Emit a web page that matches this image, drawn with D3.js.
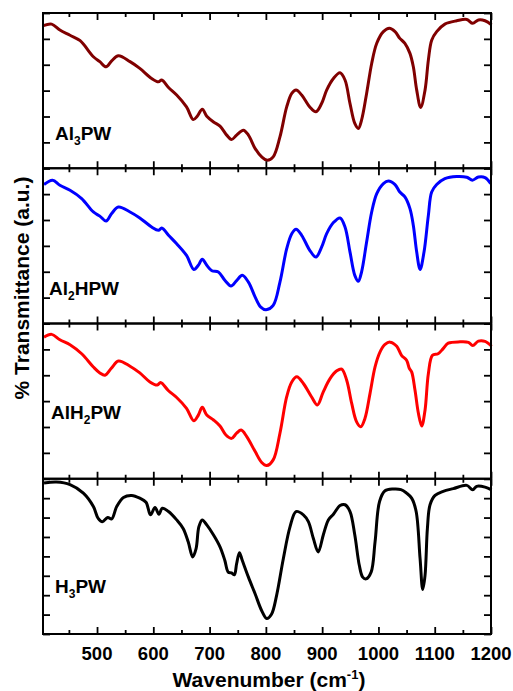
<!DOCTYPE html>
<html>
  <head>
    <meta charset="utf-8" />
    <title>FTIR spectra</title>
    <script src="https://d3js.org/d3.v7.min.js"></script>
    <style>
        body {
            margin:0;
            background:white;
        }
        text {
            font-family: "Liberation Sans", Arial, sans-serif;
            font-weight: bold;
        }
    </style>
  </head>
  <body>
    <svg id="viz"></svg>

    <script>

        // spectra: [wavenumber, transmittance (a.u.)]
        var al3pw = [[404.6,5.51],[419.4,5.57],[434,5.34],[452,5.14],[470,4.93],[493.5,4.31],[505,4.12],[516,3.92],[526,4.15],[538,4.35],[558.6,4.12],[576,3.86],[597,3.47],[609,3.34],[615,3.41],[627,3.12],[641.5,2.83],[659,2.37],[671,1.88],[678,2.01],[687,2.28],[695,2.01],[707,1.79],[718.5,1.63],[730.4,1.28],[739,1.11],[748,1.28],[760,1.47],[769,1.28],[781,0.76],[792.6,0.44],[802.6,0.31],[813,0.44],[825,1.21],[837,2.37],[846,2.89],[853.6,3.02],[863.6,2.83],[878,2.37],[889,2.18],[899,2.50],[908,3.02],[920,3.47],[931.8,3.69],[940.6,3.41],[949.5,2.50],[958,1.73],[964.3,1.54],[970,1.86],[979,2.89],[988,4.05],[997,4.83],[1008.8,5.28],[1019.4,5.41],[1029.5,5.28],[1038,5.02],[1047,4.83],[1056,4.44],[1062,3.92],[1068,3.02],[1075,2.35],[1082.8,3.02],[1088.7,4.18],[1094.6,4.95],[1103.5,5.28],[1118,5.57],[1139,5.70],[1157,5.75],[1167.5,5.60],[1177.6,5.73],[1189.4,5.70],[1201,5.54]];

        var al2hpw = [[405.8,5.37],[421,5.54],[434,5.34],[452,5.15],[472.7,4.83],[493.5,4.31],[505,4.15],[516,3.96],[526,4.25],[538,4.50],[558.6,4.31],[576,4.08],[597,3.73],[609,3.60],[615,3.69],[627,3.41],[641.5,3.08],[659,2.63],[672,2.09],[680,2.25],[687,2.48],[695,2.25],[704,2.04],[715.6,1.99],[727.4,1.66],[738,1.45],[748,1.66],[758,1.86],[769,1.60],[781,1.02],[791,0.63],[800.3,0.53],[813,0.70],[825,1.60],[837,2.89],[846,3.47],[853.6,3.64],[863.6,3.41],[878,2.83],[889,2.57],[899,2.95],[908,3.47],[920,3.90],[931.8,4.08],[940.6,3.73],[949.5,2.76],[958,1.86],[964.3,1.63],[970,1.99],[979,3.15],[988,4.31],[997,5.02],[1008.8,5.41],[1017.6,5.51],[1029.5,5.37],[1038,5.08],[1047,4.89],[1056,4.44],[1062,3.79],[1068,2.76],[1074,2.09],[1081,2.76],[1088.7,4.18],[1094.6,5.08],[1103.5,5.37],[1118,5.60],[1139,5.68],[1157,5.65],[1167,5.54],[1177.6,5.66],[1189.4,5.64],[1199.5,5.41]];

        var alh2pw = [[405.8,5.47],[419.4,5.58],[434,5.37],[452,5.18],[472.7,4.83],[493.5,4.32],[505,4.09],[514,4.00],[525,4.26],[538,4.55],[558.6,4.35],[576,4.09],[594,3.74],[607,3.62],[613,3.72],[627,3.40],[641.5,3.14],[659,2.72],[672,2.24],[680,2.46],[687,2.76],[695,2.46],[707,2.27],[718.5,2.04],[729,1.69],[739,1.56],[748,1.76],[756,1.88],[766,1.63],[781,1.05],[792.6,0.63],[801.5,0.51],[813,0.73],[825,1.76],[837,3.17],[846,3.74],[855,3.94],[866.6,3.68],[881,3.17],[891.5,2.85],[902,3.36],[914,3.87],[926,4.17],[934.8,4.24],[943.6,3.81],[952.5,2.91],[961,2.21],[968.5,2.01],[976,2.33],[985,3.29],[994,4.32],[1002.9,4.90],[1011.7,5.19],[1020.6,5.28],[1032.5,5.12],[1041,4.77],[1050,4.58],[1055,4.26],[1059,4.13],[1065,3.42],[1071,2.53],[1076.9,2.04],[1082.8,2.65],[1088.7,4.06],[1096,4.77],[1106,4.83],[1115,5.03],[1124,5.24],[1145,5.29],[1160,5.27],[1167.5,5.15],[1177.6,5.32],[1189.4,5.31],[1201,5.12]];

        var h3pw = [[405.8,7.78],[428,7.83],[452,7.70],[475.7,7.26],[493.5,6.57],[502,5.96],[509.5,5.79],[519,6.00],[526,5.93],[535,6.57],[547,7.04],[561.6,7.14],[576,7.00],[587,6.79],[595,6.14],[603,6.52],[610,6.17],[616,6.48],[627,6.31],[641.5,5.88],[653,5.44],[662,4.75],[670,3.97],[676,4.40],[681,5.53],[687,5.88],[695,5.62],[707,5.10],[718.5,4.49],[727,3.80],[733,3.19],[739,3.15],[744,3.05],[748,3.62],[753,4.19],[758,3.80],[769,2.93],[781,2.06],[792.6,1.20],[801.5,0.80],[810,1.02],[819,1.98],[831,3.88],[843,5.53],[853.6,6.31],[866.6,6.14],[875.5,5.79],[884.4,4.92],[893,4.23],[902,5.10],[911,5.88],[920,6.17],[931.8,6.62],[940.6,6.66],[949.5,6.31],[958,5.10],[966,3.54],[972,2.93],[978,2.84],[987,3.19],[994,4.75],[1002,6.83],[1011.7,7.38],[1026.5,7.47],[1040,7.44],[1050,7.26],[1059,7.00],[1067,6.31],[1074,3.88],[1078.7,2.29],[1082.8,3.02],[1087,5.44],[1091.7,6.66],[1100.6,7.14],[1115,7.35],[1133,7.49],[1157,7.66],[1167.5,7.43],[1174.6,7.61],[1189.4,7.57],[1201,7.43]];

        var labels = [["Al", "3", "PW"], ["Al", "2", "HPW"], ["AlH", "2", "PW"], ["H", "3", "PW"]];
        var colors = ["#800000", "#0000ff", "#ff0000", "#000000"];
        var yMax = [6, 6, 6, 8];
        var xTicks = [500, 600, 700, 800, 900, 1000, 1100, 1200];

        var width = 513, height = 691;
        var mLeft = 43, mRight = 491, mTop = 13, mBottom = 634;
        var panelH = (mBottom - mTop) / 4;

        var svg = d3.select("#viz")
            .attr("width", width)
            .attr("height", height);

        var x = d3.scaleLinear().domain([404, 1200]).range([mLeft, mRight]);

        var series = [al3pw, al2hpw, alh2pw, h3pw];

        series.forEach(function (data, i) {
            var y0 = mTop + i * panelH;
            var y = d3.scaleLinear().domain([0, yMax[i]]).range([y0 + panelH, y0]);
            var g = svg.append("g");

            var line = d3.line()
                .curve(d3.curveCatmullRom.alpha(0.5))
                .x(function (d) { return x(d[0]); })
                .y(function (d) { return y(d[1]); });

            g.append("path")
                .datum(data)
                .attr("d", line)
                .attr("fill", "none")
                .attr("stroke", colors[i])
                .attr("stroke-width", 3)
                .attr("stroke-linejoin", "round");

            // inward ticks on all four sides
            var minor = d3.range(450, 1200, 100);
            g.append("g").attr("transform", "translate(0," + (y0 + panelH) + ")")
                .call(d3.axisTop(x).tickValues(xTicks).tickSize(7).tickFormat(""))
                .call(function (a) { a.select(".domain").remove(); });
            g.append("g").attr("transform", "translate(0," + (y0 + panelH) + ")")
                .call(d3.axisTop(x).tickValues(minor).tickSize(4).tickFormat(""))
                .call(function (a) { a.select(".domain").remove(); });
            g.append("g").attr("transform", "translate(0," + y0 + ")")
                .call(d3.axisBottom(x).tickValues(xTicks).tickSize(7).tickFormat(""))
                .call(function (a) { a.select(".domain").remove(); });
            g.append("g").attr("transform", "translate(0," + y0 + ")")
                .call(d3.axisBottom(x).tickValues(minor).tickSize(4).tickFormat(""))
                .call(function (a) { a.select(".domain").remove(); });
            g.append("g").attr("transform", "translate(" + mLeft + ",0)")
                .call(d3.axisRight(y).ticks(yMax[i]).tickSize(7).tickFormat(""))
                .call(function (a) { a.select(".domain").remove(); });
            g.append("g").attr("transform", "translate(" + mRight + ",0)")
                .call(d3.axisLeft(y).ticks(yMax[i]).tickSize(7).tickFormat(""))
                .call(function (a) { a.select(".domain").remove(); });

            g.selectAll(".tick line").attr("stroke", "black").attr("stroke-width", 1.8);

            g.append("rect")
                .attr("x", mLeft).attr("y", y0)
                .attr("width", mRight - mLeft).attr("height", panelH)
                .attr("fill", "none").attr("stroke", "black").attr("stroke-width", 2);

            var lx = [55, 49, 51, 55][i];
            var ly = [140, 295, 419, 593][i];
            var t = g.append("text").attr("x", lx).attr("y", ly).attr("font-size", 19);
            t.append("tspan").text(labels[i][0]);
            t.append("tspan").attr("font-size", 12).attr("dy", 5).text(labels[i][1]);
            t.append("tspan").attr("dy", -5).text(labels[i][2]);
        });

        // tick labels on bottom
        svg.append("g").selectAll("text").data(xTicks).enter().append("text")
            .attr("x", function (d) { return x(d); })
            .attr("y", 660)
            .attr("text-anchor", "middle")
            .attr("font-size", 18.5)
            .text(function (d) { return d; });

        var xt = svg.append("text")
            .attr("x", (mLeft + mRight) / 2 + 2)
            .attr("y", 687)
            .attr("text-anchor", "middle")
            .attr("font-size", 21);
        xt.append("tspan").text("Wavenumber (cm");
        xt.append("tspan").attr("font-size", 13).attr("dy", -8).text("-1");
        xt.append("tspan").attr("dy", 8).text(")");

        svg.append("text")
            .attr("transform", "translate(29,288) rotate(-90)")
            .attr("text-anchor", "middle")
            .attr("font-size", 21)
            .text("% Transmittance (a.u.)");

    </script>
  </body>
</html>
